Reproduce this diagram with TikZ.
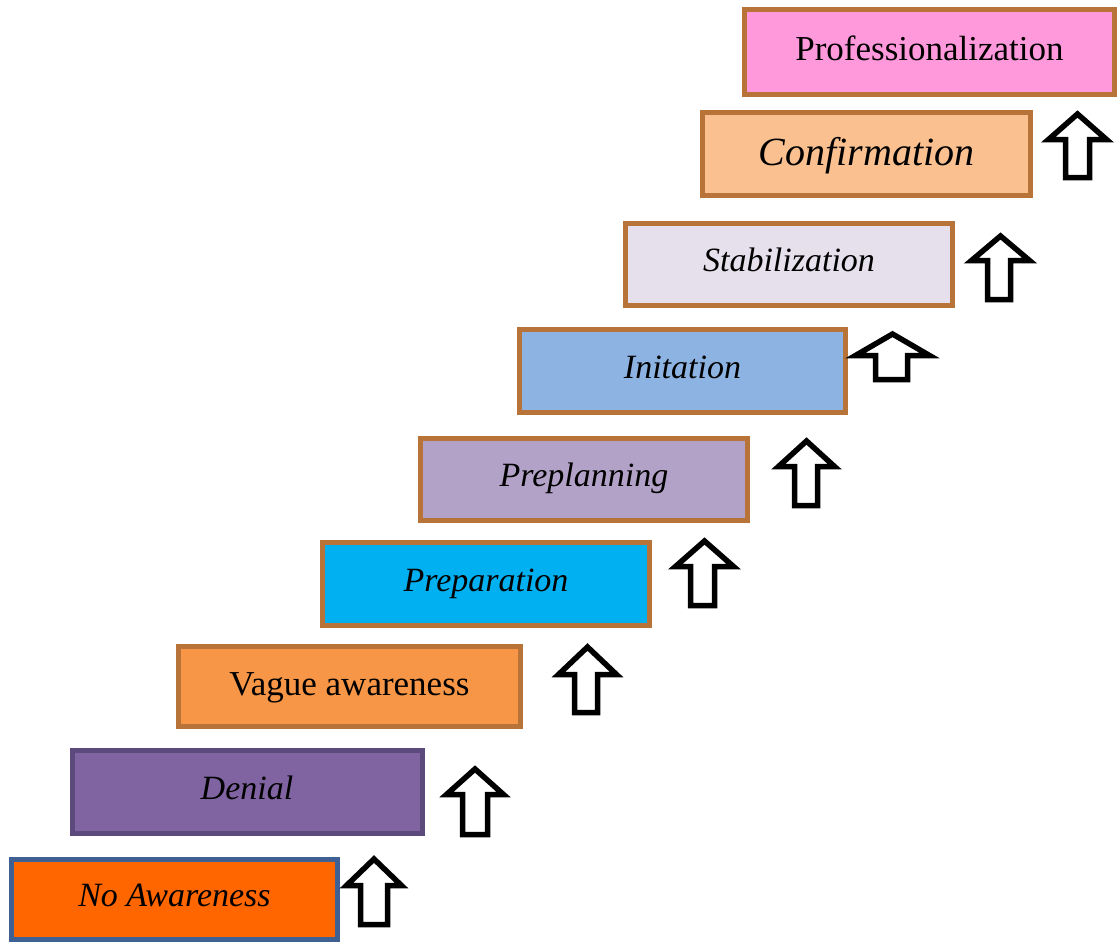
\documentclass[tikz,border=0pt]{standalone}
\usepackage{fontspec}
\setmainfont{Liberation Serif}
\definecolor{cNoA}{HTML}{FF6600}
\definecolor{bNoA}{HTML}{3E6092}
\definecolor{cDen}{HTML}{8064A2}
\definecolor{bDen}{HTML}{5C4A7D}
\definecolor{cVag}{HTML}{F79646}
\definecolor{cPrp}{HTML}{00B0F0}
\definecolor{cPpl}{HTML}{B3A2C7}
\definecolor{cIni}{HTML}{8DB3E2}
\definecolor{cSta}{HTML}{E5E0EC}
\definecolor{cCon}{HTML}{FAC090}
\definecolor{cPro}{HTML}{FF99DB}
\definecolor{brn}{HTML}{B87438}
\tikzset{
  stage/.style={draw=brn, line width=5pt, rectangle, minimum height=82pt,
    text height=14pt, text depth=0pt, inner sep=0pt,
    font=\fontsize{34}{40}\selectfont\itshape},
  arrowline/.style={draw=black, fill=white, line width=5.5pt, line join=miter},
}
\newcommand\blkarrow[7]{%
  \draw[arrowline] ({#1+3.5},{#4-2.5}) -- ({(#1+#2)/2},{#3+4}) -- ({#2-3.5},{#4-2.5})
    -- ({#7-2.5},{#4-2.5}) -- ({#7-2.5},{#5-2.5}) -- ({#6+2.5},{#5-2.5}) -- ({#6+2.5},{#4-2.5}) -- cycle;}
\begin{document}
\begin{tikzpicture}[x=1pt,y=-1pt]
\useasboundingbox (0,0) rectangle (1120,943);
\node[stage, fill=cNoA, draw=bNoA, minimum width=326pt, minimum height=80pt] (noaw) at (174.5,899) {No Awareness};
\node[stage, fill=cDen, draw=bDen, minimum width=350pt, minimum height=83pt] (denial) at (247,792) {Denial};
\node[stage, fill=cVag, minimum width=342pt, minimum height=80pt, text height=18pt, font=\fontsize{35}{40}\selectfont] (vague) at (349.5,686) {Vague awareness};
\node[stage, fill=cPrp, minimum width=327pt, minimum height=83pt] (prep) at (486,584) {Preparation};
\node[stage, fill=cPpl, minimum width=327pt] (preplan) at (584,479.5) {Preplanning};
\node[stage, fill=cIni, minimum width=326pt, minimum height=83pt] (init) at (682.5,371) {Initation};
\node[stage, fill=cSta, minimum width=327pt] (stab) at (789,264.5) {Stabilization};
\node[stage, fill=cCon, minimum width=328pt, minimum height=83pt, text height=22pt, font=\fontsize{40}{46}\selectfont\itshape] (conf) at (866.5,154) {Confirmation};
\node[stage, fill=cPro, minimum width=370pt, minimum height=85pt, text height=16pt, font=\fontsize{35}{40}\selectfont] (prof) at (929.5,52) {Professionalization};
\blkarrow{343}{405}{855}{888}{927}{358}{390}
\blkarrow{443}{507}{765}{797}{837}{460}{490}
\blkarrow{555}{620}{643}{677}{715}{572}{600}
\blkarrow{672}{737}{537}{569}{608}{688}{717}
\blkarrow{775}{838}{437}{469}{508}{792}{820}
\blkarrow{852}{933}{330}{358}{382}{873}{910}
\blkarrow{968}{1033}{232}{263}{302}{985}{1013}
\blkarrow{1045}{1110}{110}{142}{180}{1063}{1092}
\end{tikzpicture}
\end{document}
